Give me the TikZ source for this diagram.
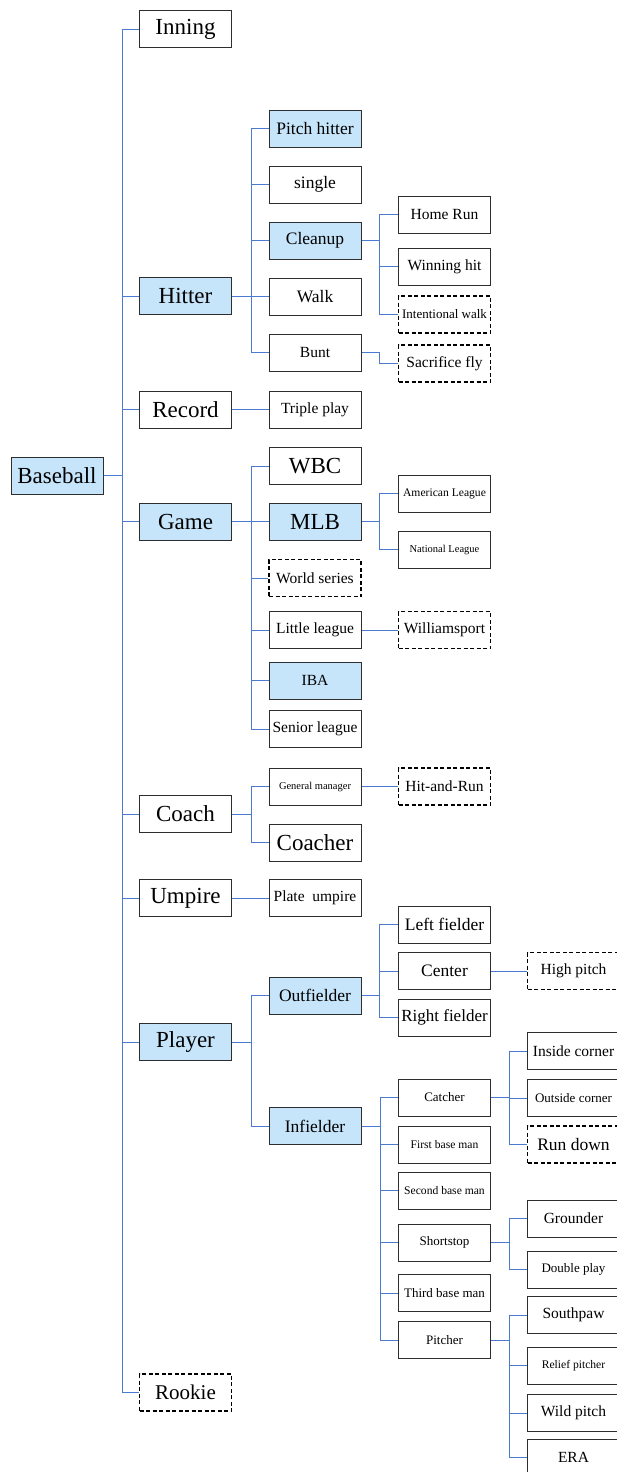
\documentclass[tikz,border=0pt]{standalone}
\usepackage{fontspec}
\setmainfont{Liberation Serif}
\usepackage{tikz}
\usetikzlibrary{positioning}
\definecolor{bline}{HTML}{4A7BD0}
\definecolor{bfill}{HTML}{C6E5FA}
\definecolor{bdraw}{HTML}{2E2E2E}
\tikzset{
  box/.style={draw=bdraw,fill=white,line width=1pt,minimum width=92pt,minimum height=37pt,inner sep=0pt,align=center},
  acc/.style={box,fill=bfill},
  dbox/.style={box,draw=black,line width=1.1pt,dash pattern=on 4pt off 2.5pt},
  lnk/.style={draw=bline,line width=0.9pt},
  fxl/.style={font=\fontsize{23}{26}\selectfont},
  fl/.style={font=\fontsize{17.5}{20}\selectfont},
  fm/.style={font=\fontsize{15.5}{17}\selectfont},
  fs/.style={font=\fontsize{13}{15}\selectfont},
  fxs/.style={font=\fontsize{11.6}{13}\selectfont},
  fxxs/.style={font=\fontsize{10.5}{12}\selectfont},
}

\begin{document}
\begin{tikzpicture}[x=1pt,y=-1pt]
\useasboundingbox (0,0) rectangle (617,1472);
% root and first level
\node[acc,fxl] (base) at (57,475.5) {Baseball};
\node[box,fxl] (inning) at (185.5,29.5) {Inning};
\node[acc,fxl] (hitter) at (185.5,296) {Hitter};
\node[box,fxl] (record) at (185.5,409.5) {Record};
\node[acc,fxl] (game) at (185.5,521.5) {Game};
\node[box,fxl] (coach) at (185.5,814) {Coach};
\node[box,fxl] (umpire) at (185.5,898) {Umpire};
\node[acc,fxl] (player) at (185.5,1042) {Player};
\node[dbox,font=\fontsize{21}{24}\selectfont] (rookie) at (185.5,1392.5) {Rookie};
% second level
\node[acc,fl] (phit) at (315,128.5) {Pitch hitter};
\node[box,fl] (single) at (315,184.5) {single};
\node[acc,fl] (cleanup) at (315,240.5) {Cleanup};
\node[box,fl] (walk) at (315,296.5) {Walk};
\node[box,fm] (bunt) at (315,352.5) {Bunt};
\node[box,fm] (triple) at (315,409.5) {Triple play};
\node[box,fxl] (wbc) at (315,466) {WBC};
\node[acc,fxl] (mlb) at (315,521.5) {MLB};
\node[dbox,fm] (wseries) at (315,578) {World series};
\node[box,fm] (little) at (315,630) {Little league};
\node[acc,fm] (iba) at (315,680.5) {IBA};
\node[box,fm] (senior) at (315,729) {Senior league};
\node[box,fxxs] (gm) at (315,786.5) {General manager};
\node[box,fxl] (coacher) at (315,842.5) {Coacher};
\node[box,fm] (plate) at (315,898) {Plate\ \ umpire};
\node[acc,fl] (outf) at (315,995.5) {Outfielder};
\node[acc,fl] (inf) at (315,1126) {Infielder};
% third level
\node[box,fm] (homerun) at (444.5,214.5) {Home Run};
\node[box,fm] (winhit) at (444.5,266.5) {Winning hit};
\node[dbox,fs] (intwalk) at (444.5,314.5) {Intentional walk};
\node[dbox,fm] (sacfly) at (444.5,363.5) {Sacrifice fly};
\node[box,fxs] (amleague) at (444.5,493.5) {American League};
\node[box,fxxs] (naleague) at (444.5,549.5) {National League};
\node[dbox,fm] (wport) at (444.5,630) {Williamsport};
\node[dbox,fm] (hitrun) at (444.5,786.5) {Hit-and-Run};
\node[box,fl] (leftf) at (444.5,924.5) {Left fielder};
\node[box,fl] (center) at (444.5,971) {Center};
\node[box,font=\fontsize{17}{19}\selectfont] (rightf) at (444.5,1017.5) {Right fielder};
\node[box,fs] (catcher) at (444.5,1097.5) {Catcher};
\node[box,fxs] (firstb) at (444.5,1144.5) {First base man};
\node[box,fxs] (secondb) at (444.5,1190.5) {Second base man};
\node[box,fs] (short) at (444.5,1242.5) {Shortstop};
\node[box,fs] (thirdb) at (444.5,1293) {Third base man};
\node[box,fs] (pitcher) at (444.5,1340) {Pitcher};
% fourth level
\node[dbox,fm] (hpitch) at (573.5,971) {High pitch};
\node[box,fm] (inside) at (573.5,1051) {Inside corner};
\node[box,fs] (outside) at (573.5,1098) {Outside corner};
\node[dbox,fl] (rundown) at (573.5,1144.5) {Run down};
\node[box,fm] (grounder) at (573.5,1218.5) {Grounder};
\node[box,fs] (dplay) at (573.5,1269.5) {Double play};
\node[box,fm] (southpaw) at (573.5,1315) {Southpaw};
\node[box,fxs] (relief) at (573.5,1365.5) {Relief pitcher};
\node[box,fm] (wild) at (573.5,1413) {Wild pitch};
\node[box,fm] (era) at (573.5,1457.5) {ERA};
% connectors
\foreach \c in {inning,hitter,record,game,coach,umpire,player,rookie}
  \draw[lnk] (base.east) -- ++(19,0) |- (\c.west);
\foreach \c in {phit,single,cleanup,walk,bunt}
  \draw[lnk] (hitter.east) -- ++(19,0) |- (\c.west);
\foreach \c in {wbc,mlb,wseries,little,iba,senior}
  \draw[lnk] (game.east) -- ++(19,0) |- (\c.west);
\foreach \c in {gm,coacher}
  \draw[lnk] (coach.east) -- ++(19,0) |- (\c.west);
\foreach \c in {outf,inf}
  \draw[lnk] (player.east) -- ++(19,0) |- (\c.west);
\draw[lnk] (record.east) -- (triple.west);
\draw[lnk] (umpire.east) -- (plate.west);
\foreach \c in {homerun,winhit,intwalk}
  \draw[lnk] (cleanup.east) -- ++(18,0) |- (\c.west);
\draw[lnk] (bunt.east) -- ++(18,0) |- (sacfly.west);
\foreach \c in {amleague,naleague}
  \draw[lnk] (mlb.east) -- ++(18,0) |- (\c.west);
\draw[lnk] (little.east) -- (wport.west);
\draw[lnk] (gm.east) -- (hitrun.west);
\foreach \c in {leftf,center,rightf}
  \draw[lnk] (outf.east) -- ++(18,0) |- (\c.west);
\foreach \c in {catcher,firstb,secondb,short,thirdb,pitcher}
  \draw[lnk] (inf.east) -- ++(19,0) |- (\c.west);
\draw[lnk] (center.east) -- (hpitch.west);
\foreach \c in {inside,outside,rundown}
  \draw[lnk] (catcher.east) -- ++(18,0) |- (\c.west);
\foreach \c in {grounder,dplay}
  \draw[lnk] (short.east) -- ++(18,0) |- (\c.west);
\foreach \c in {southpaw,relief,wild,era}
  \draw[lnk] (pitcher.east) -- ++(18,0) |- (\c.west);
\end{tikzpicture}
\end{document}
